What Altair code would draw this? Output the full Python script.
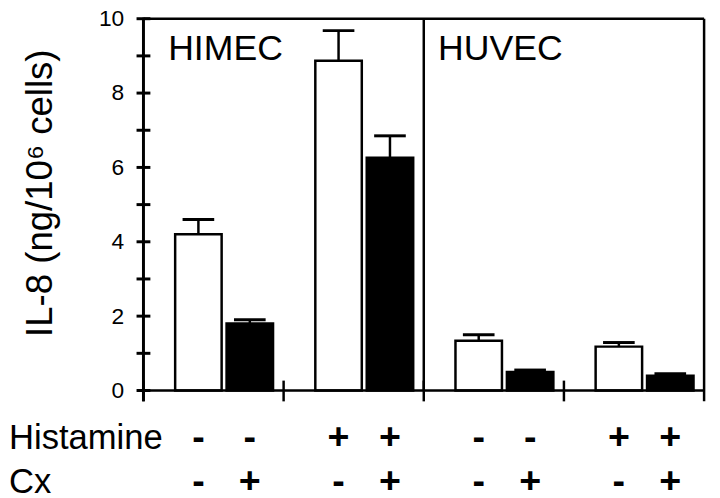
import altair as alt
import pandas as pd

# ---- data ----
groups = ["HIMEC_ctrl", "HIMEC_hist", "HUVEC_ctrl", "HUVEC_hist"]
bar_group = ["HIMEC_ctrl", "HIMEC_ctrl", "HIMEC_hist", "HIMEC_hist",
             "HUVEC_ctrl", "HUVEC_ctrl", "HUVEC_hist", "HUVEC_hist"]
histamine = ["-", "-", "+", "+", "-", "-", "+", "+"]
cx = ["-", "+", "-", "+", "-", "+", "-", "+"]
il8 = [4.2, 1.8, 8.87, 6.26, 1.34, 0.5, 1.18, 0.4]
il8_upper = [4.6, 1.9, 9.68, 6.85, 1.5, 0.55, 1.29, 0.45]
y_ticks = list(range(0, 11))
panel_names = ["HIMEC", "HUVEC"]
row_names = ["Histamine", "Cx"]

W, H = 567, 376
FONT = "Liberation Sans"

bars_df = pd.DataFrame({"group": bar_group, "histamine": histamine, "cx": cx,
                        "il8": il8, "upper": il8_upper})
groups_df = pd.DataFrame({"group": groups})
ticks_df = pd.DataFrame({"v": y_ticks})
one = pd.DataFrame({"a": [0]})

x_scale = alt.Scale(domain=groups, paddingInner=0, paddingOuter=0)
y_scale = alt.Scale(domain=[0, 10], nice=False, zero=True)
off_scale = alt.Scale(domain=["-", "+"], paddingInner=0.096, paddingOuter=0.411, align=0.75)

X = alt.X("group:N", scale=x_scale, axis=None)
X0 = alt.X("group:N", scale=x_scale, axis=None, bandPosition=0)
XO = alt.XOffset("cx:N", scale=off_scale)

y_axis = alt.Axis(
    values=y_ticks,
    labelExpr="datum.value % 2 == 0 ? datum.label : ''",
    grid=False,
    title="IL-8 (ng/10⁶ cells)",
    titleX=-104, titleY=176,
)

bars = alt.Chart(bars_df).mark_bar(stroke="black", strokeWidth=2.5).encode(
    x=X, xOffset=XO,
    y=alt.Y("il8:Q", scale=y_scale, axis=y_axis),
    fill=alt.Fill("cx:N", scale=alt.Scale(domain=["-", "+"], range=["white", "black"]), legend=None),
)

stems = alt.Chart(bars_df).mark_rule(color="black", strokeWidth=2.5).encode(
    x=X, xOffset=XO, y=alt.Y("il8:Q", scale=y_scale, axis=y_axis), y2="upper:Q")

caps = alt.Chart(bars_df).mark_tick(color="black", orient="horizontal", size=32,
                                    thickness=3, opacity=1).encode(
    x=X, xOffset=XO, y=alt.Y("upper:Q", scale=y_scale, axis=y_axis))

# y-axis ticks crossing the axis line
yticks = alt.Chart(ticks_df).mark_tick(color="black", orient="horizontal", size=14,
                                       thickness=3, opacity=1).encode(
    y=alt.Y("v:Q", scale=y_scale, axis=y_axis), x=alt.value(0))

# y-axis line as a filled strip
left_line = alt.Chart(one).mark_rect(color="black", opacity=1).encode(
    x=alt.value(-1.5), x2=alt.value(1.5), y=alt.value(-1), y2=alt.value(H + 11))
top_line = alt.Chart(one).mark_rule(color="black", strokeWidth=2.5).encode(
    x=alt.value(0), x2=alt.value(W), y=alt.value(0))
base_line = alt.Chart(one).mark_rule(color="black", strokeWidth=2.5).encode(
    x=alt.value(0), x2=alt.value(W), y=alt.value(H))
right_line = alt.Chart(one).mark_rule(color="black", strokeWidth=2.5).encode(
    x=alt.value(W), y=alt.value(0), y2=alt.value(H + 11))

divider = alt.Chart(pd.DataFrame({"group": [groups[2]]})).mark_rule(
    color="black", strokeWidth=2.5).encode(
    x=X0, y=alt.value(0), y2=alt.value(H))

x_ticks = alt.Chart(groups_df).mark_rule(color="black", strokeWidth=2.5).encode(
    x=X0, y=alt.value(H - 10), y2=alt.value(H + 11))

sign_style = dict(font=FONT, fontSize=38, fontWeight="bold", color="black",
                  align="center", baseline="middle")
hist_signs = alt.Chart(bars_df).mark_text(**sign_style).encode(
    x=X, xOffset=XO, y=alt.value(H + 48), text="histamine:N")
cx_signs = alt.Chart(bars_df).mark_text(**sign_style).encode(
    x=X, xOffset=XO, y=alt.value(H + 93), text="cx:N")

row_style = dict(font=FONT, fontSize=35, color="black", align="left", baseline="middle")
hist_label = alt.Chart(one).mark_text(**row_style).encode(
    x=alt.value(-136), y=alt.value(H + 48), text=alt.value(row_names[0]))
cx_label = alt.Chart(one).mark_text(**row_style).encode(
    x=alt.value(-136), y=alt.value(H + 93), text=alt.value(row_names[1]))

panel_style = dict(font=FONT, fontSize=36, color="black", align="left", baseline="alphabetic")
himec = alt.Chart(one).mark_text(**panel_style).encode(
    x=alt.value(25), y=alt.value(42), text=alt.value(panel_names[0]))
huvec = alt.Chart(one).mark_text(**panel_style).encode(
    x=alt.value(298), y=alt.value(42), text=alt.value(panel_names[1]))

chart = alt.layer(
    bars, stems, caps, top_line, base_line, right_line, divider,
    x_ticks, hist_signs, cx_signs, hist_label, cx_label, himec, huvec,
    yticks, left_line,
).properties(
    width=W, height=H,
    autosize=alt.AutoSizeParams(type="none"),
    padding={"left": 137, "top": 8, "right": 8, "bottom": 116},
).configure_view(stroke=None).configure(background="white").configure_axisY(
    ticks=False, domain=False,
    labelFont=FONT, labelFontSize=23, labelColor="black", labelPadding=20,
    titleFont=FONT, titleFontSize=37, titleFontWeight="normal", titleColor="black",
    titleAngle=270, titleBaseline="middle", titleAlign="center",
)

chart.save("out.html", embed_options={"renderer": "svg", "actions": False})
